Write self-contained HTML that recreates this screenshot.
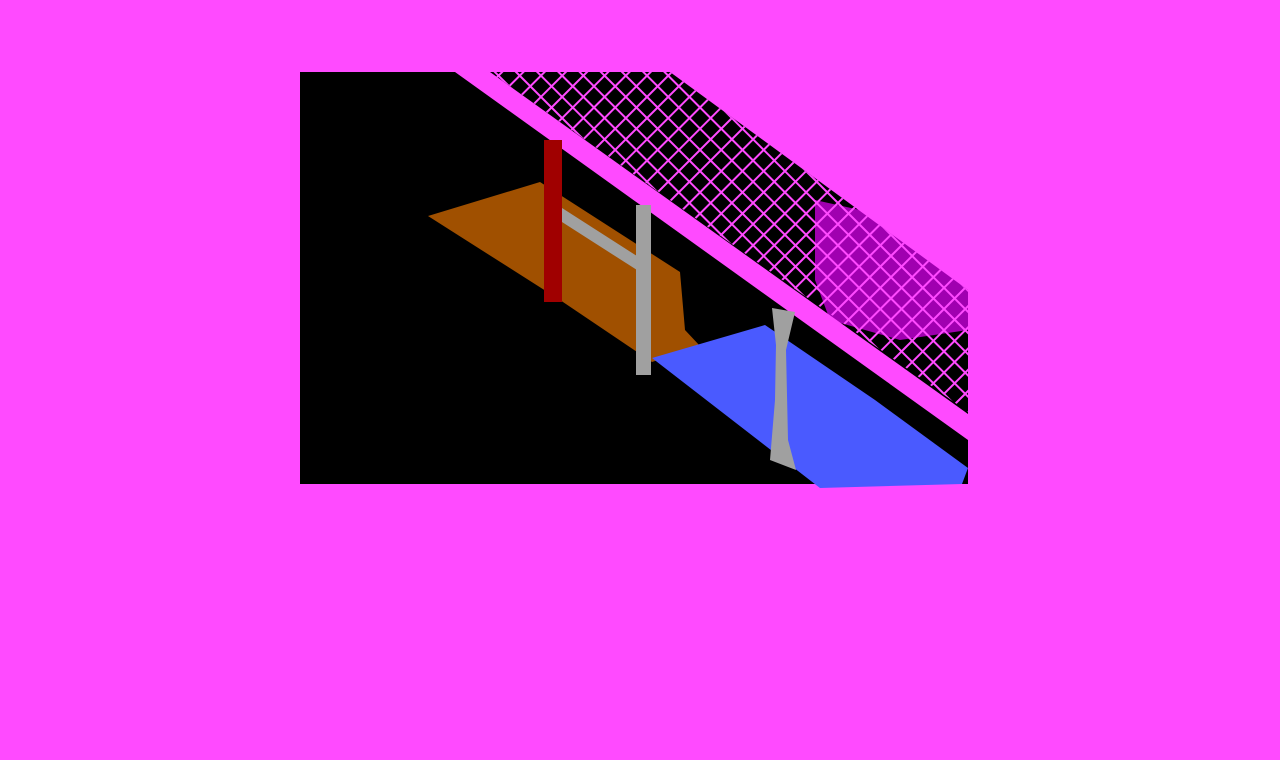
<!DOCTYPE html>
<html><head><meta charset="utf-8"><style>
html,body{margin:0;padding:0;background:#FF4AFF;width:1280px;height:760px;overflow:hidden}
svg{display:block}
</style></head><body>
<svg width="1280" height="760">
<defs>
<pattern id="hatch" patternUnits="userSpaceOnUse" width="15" height="15" patternTransform="rotate(45)">
<line x1="0" y1="0" x2="15" y2="0" stroke="#FF4AFF" stroke-width="4"/>
<line x1="0" y1="0" x2="0" y2="15" stroke="#FF4AFF" stroke-width="4"/>
</pattern>
</defs>
<rect x="0" y="0" width="1280" height="760" fill="#FF4AFF"/>
<rect x="300" y="72" width="668" height="412" fill="#000"/>
<polygon points="815,200 860,210 930,260 968,290 968,330 900,340 830,320 815,280" fill="#A000B0"/>
<polygon points="490,72 670,72 968,290 968,412" fill="url(#hatch)"/>
<polygon points="670,72 968,72 968,290" fill="#FF4AFF"/>
<polygon points="455,72 490,72 968,414 968,440" fill="#FF4AFF"/>
<polygon points="428,216 540,182 680,272 685,330 700,346 652,362 560,300" fill="#A05000"/>
<polygon points="652,358 765,325 875,400 968,468 962,484 820,488" fill="#4A5AFF"/>
<rect x="544" y="140" width="18" height="162" fill="#A00000"/>
<polygon points="562,208 640,258 640,272 562,222" fill="#A0A0A0"/>
<rect x="636" y="205" width="15" height="170" fill="#A0A0A0"/>
<polygon points="772,308 795,312 786,350 788,440 796,470 770,460 775,400 776,345" fill="#A0A0A0"/>
</svg>
</body></html>
